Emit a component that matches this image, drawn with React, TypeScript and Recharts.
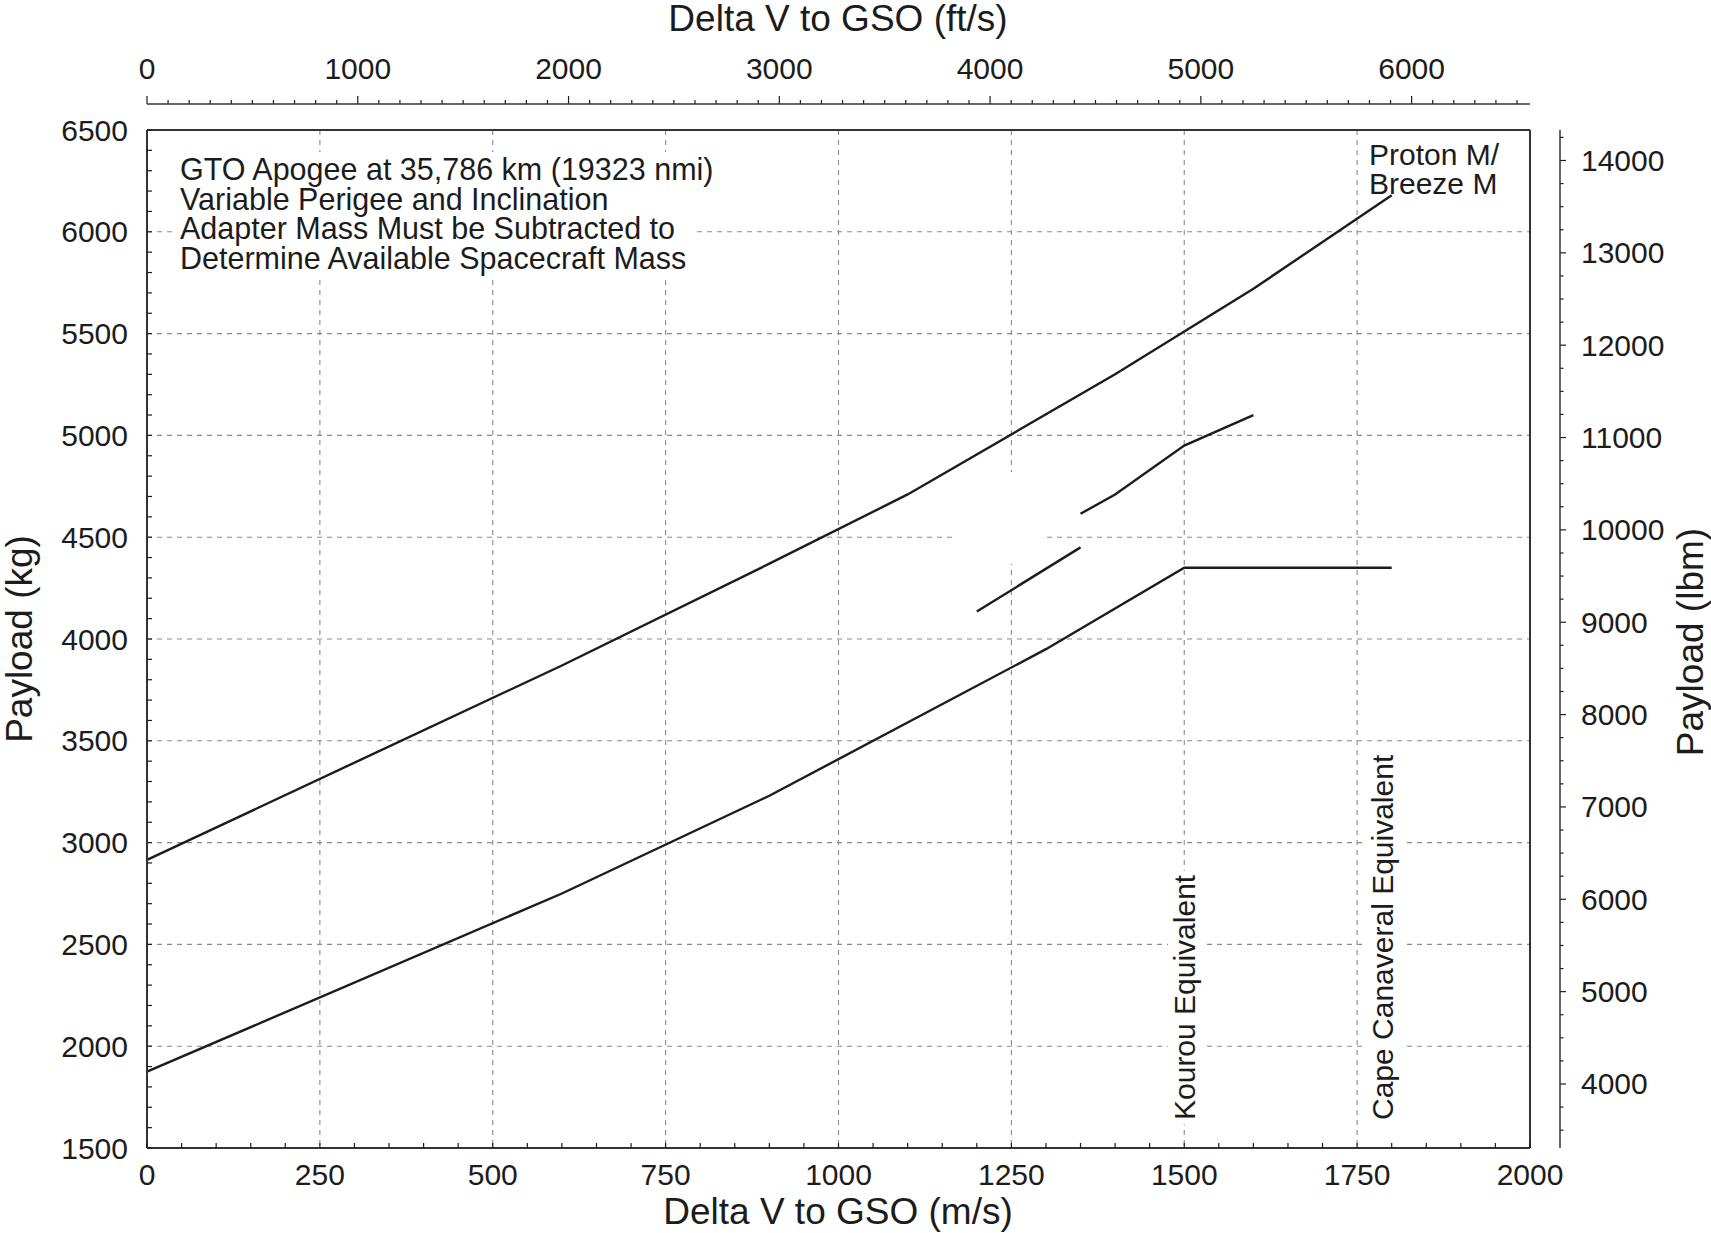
import React from 'react';
import { LineChart, Line, XAxis, YAxis, CartesianGrid } from 'recharts';

// Proton M / Breeze M: GTO payload vs delta V to GSO
const upperCurve = [
  { v: 0, kg: 2915 },
  { v: 600, kg: 3870 },
  { v: 900, kg: 4370 },
  { v: 1100, kg: 4710 },
  { v: 1400, kg: 5300 },
  { v: 1600, kg: 5720 },
  { v: 1800, kg: 6180 },
];
const lowerCurve = [
  { v: 0, kg: 1875 },
  { v: 600, kg: 2750 },
  { v: 900, kg: 3230 },
  { v: 1300, kg: 3950 },
  { v: 1500, kg: 4350 },
  { v: 1800, kg: 4350 },
];
const midLowSegment = [
  { v: 1200, kg: 4135 },
  { v: 1350, kg: 4450 },
];
const midHighSegment = [
  { v: 1350, kg: 4615 },
  { v: 1400, kg: 4710 },
  { v: 1500, kg: 4950 },
  { v: 1600, kg: 5100 },
];

const msLabels = [0, 250, 500, 750, 1000, 1250, 1500, 1750, 2000];
const kgLabels = [1500, 2000, 2500, 3000, 3500, 4000, 4500, 5000, 5500, 6000, 6500];
const ftLabels = [0, 1000, 2000, 3000, 4000, 5000, 6000];
const lbLabels = [4000, 5000, 6000, 7000, 8000, 9000, 10000, 11000, 12000, 13000, 14000];
const msGrid = [250, 500, 750, 1000, 1250, 1500, 1750];
const kgGrid = [2000, 2500, 3000, 3500, 4000, 4500, 5000, 5500, 6000];

const notes = [
  'GTO Apogee at 35,786 km (19323 nmi)',
  'Variable Perigee and Inclination',
  'Adapter Mass Must be Subtracted to',
  'Determine Available Spacecraft Mass',
];

const MS_TO_FT = 3.28084;
const KG_TO_LB = 2.20462;

const range = (a: number, b: number, step: number) => {
  const out: number[] = [];
  for (let t = a; t <= b; t += step) out.push(t);
  return out;
};
const msTicks = range(0, 2000, 50);
const kgTicks = range(1500, 6500, 100);
const ftTicks = range(0, 6500, 100);
const lbTicks = range(3500, 14250, 250);

const W = 1711;
const H = 1233;
const PLOT_LEFT = 147;
const PLOT_RIGHT = 1530;
const PLOT_TOP = 130;
const PLOT_BOTTOM = 1148;
const TOP_AXIS_Y = PLOT_TOP - 26;
const RIGHT_AXIS_X = PLOT_RIGHT + 30;

const FONT = '"Liberation Sans", Arial, Helvetica, sans-serif';
const INK = '#1c1c1c';

function measure(s: string, size: number) {
  const ctx = document.createElement('canvas').getContext('2d');
  if (!ctx) return s.length * size * 0.5;
  ctx.font = `${size}px "Liberation Sans"`;
  return ctx.measureText(s).width;
}

function BottomTick({ x, payload }: any) {
  const v = payload.value;
  return (
    <g>
      <line x1={x} x2={x} y1={PLOT_BOTTOM} y2={PLOT_BOTTOM - 5} stroke={INK} strokeWidth={1.2} />
      {msLabels.includes(v) && (
        <text x={x} y={PLOT_BOTTOM + 37} textAnchor="middle" fontSize={30} fontFamily={FONT} fill={INK}>
          {v}
        </text>
      )}
    </g>
  );
}

function LeftTick({ y, payload }: any) {
  const v = payload.value;
  return (
    <g>
      <line x1={PLOT_LEFT} x2={PLOT_LEFT + 5} y1={y} y2={y} stroke={INK} strokeWidth={1.2} />
      {kgLabels.includes(v) && (
        <text x={PLOT_LEFT - 19} y={y + 10.5} textAnchor="end" fontSize={30} fontFamily={FONT} fill={INK}>
          {v}
        </text>
      )}
    </g>
  );
}

function TopTick({ x, payload }: any) {
  const v = payload.value;
  const major = ftLabels.includes(v);
  return (
    <g>
      <line
        x1={x}
        x2={x}
        y1={TOP_AXIS_Y}
        y2={TOP_AXIS_Y - (major ? 8 : 4)}
        stroke={INK}
        strokeWidth={1.2}
      />
      {major && (
        <text x={x} y={TOP_AXIS_Y - 25} textAnchor="middle" fontSize={30} fontFamily={FONT} fill={INK}>
          {v}
        </text>
      )}
    </g>
  );
}

function RightTick({ y, payload }: any) {
  const v = payload.value;
  const major = lbLabels.includes(v);
  return (
    <g>
      <line
        x1={RIGHT_AXIS_X}
        x2={RIGHT_AXIS_X + (major ? 6 : 3.5)}
        y1={y}
        y2={y}
        stroke={INK}
        strokeWidth={1.2}
      />
      {major && (
        <text x={RIGHT_AXIS_X + 21} y={y + 10.5} textAnchor="start" fontSize={30} fontFamily={FONT} fill={INK}>
          {v}
        </text>
      )}
    </g>
  );
}

export default function App() {
  const noteSize = 30.5;
  const noteW = notes.map((n) => measure(n, noteSize));
  const kourou = 'Kourou Equivalent';
  const cape = 'Cape Canaveral Equivalent';
  const kourouLen = measure(kourou, 30);
  const capeLen = measure(cape, 30);

  return (
    <div style={{ position: 'absolute', left: 0, top: 0, width: W, height: H, background: '#fff' }}>
      <LineChart width={W} height={H} margin={{ top: 0, right: 0, bottom: 0, left: 0 }}>
        <CartesianGrid
          xAxisId="ms"
          yAxisId="kg"
          horizontalValues={kgGrid}
          verticalValues={msGrid}
          stroke="#8a8a8a"
          strokeWidth={1.1}
          strokeDasharray="5 5"
        />
        <XAxis
          xAxisId="ms"
          dataKey="v"
          type="number"
          orientation="bottom"
          domain={[0, 2000]}
          allowDataOverflow
          ticks={msTicks}
          interval={0}
          height={H - PLOT_BOTTOM}
          tickSize={0}
          tickMargin={0}
          tickLine={false}
          axisLine={{ stroke: '#333', strokeWidth: 2 }}
          tick={BottomTick}
        />
        <XAxis
          xAxisId="ft"
          dataKey="ft"
          type="number"
          orientation="top"
          domain={[0, 2000 * MS_TO_FT]}
          allowDataOverflow
          ticks={ftTicks}
          interval={0}
          height={PLOT_TOP}
          tickSize={0}
          tickMargin={0}
          tickLine={false}
          axisLine={{ stroke: '#333', strokeWidth: 2 }}
          tick={TopTick}
        />
        <YAxis
          yAxisId="kg"
          type="number"
          orientation="left"
          domain={[1500, 6500]}
          allowDataOverflow
          ticks={kgTicks}
          interval={0}
          width={PLOT_LEFT}
          tickSize={0}
          tickMargin={0}
          tickLine={false}
          axisLine={{ stroke: '#333', strokeWidth: 2 }}
          tick={LeftTick}
        />
        <YAxis
          yAxisId="lb"
          type="number"
          orientation="right"
          domain={[1500 * KG_TO_LB, 6500 * KG_TO_LB]}
          allowDataOverflow
          ticks={lbTicks}
          interval={0}
          width={W - PLOT_RIGHT}
          tickSize={0}
          tickMargin={0}
          tickLine={false}
          axisLine={{ stroke: '#333', strokeWidth: 2 }}
          tick={RightTick}
        />
        {[upperCurve, lowerCurve, midLowSegment, midHighSegment].map((d, i) => (
          <Line
            key={i}
            xAxisId="ms"
            yAxisId="kg"
            data={d}
            dataKey="kg"
            type="linear"
            stroke={INK}
            strokeWidth={2.4}
            dot={false}
            activeDot={false}
            isAnimationActive={false}
          />
        ))}
      </LineChart>

      <svg
        width={W}
        height={H}
        style={{ position: 'absolute', left: 0, top: 0, pointerEvents: 'none' }}
        fontFamily={FONT}
        fill={INK}
      >
        {/* offset axis lines for the ft/s and lbm scales */}
        <line x1={PLOT_LEFT} x2={PLOT_RIGHT} y1={TOP_AXIS_Y} y2={TOP_AXIS_Y} stroke="#333" strokeWidth={1.5} />
        <line x1={RIGHT_AXIS_X} x2={RIGHT_AXIS_X} y1={PLOT_TOP} y2={PLOT_BOTTOM} stroke="#333" strokeWidth={1.5} />

        {/* white boxes behind labels that hide the grid */}
        <rect x={174} y={152} width={noteW[0] + 10} height={36} fill="#fff" />
        <rect x={174} y={188} width={Math.max(noteW[1], noteW[2], noteW[3]) + 10} height={88} fill="#fff" />
        <rect x={1168} y={1120 - kourouLen - 4} width={35} height={kourouLen + 8} fill="#fff" />
        <rect x={1366} y={1120 - capeLen - 4} width={36} height={capeLen + 8} fill="#fff" />
        <rect x={957} y={472} width={88} height={92} fill="#fff" />

        {notes.map((n, i) => (
          <text key={n} x={180} y={180 + i * 29.5} fontSize={noteSize}>
            {n}
          </text>
        ))}
        <text x={1369} y={165} fontSize={30}>Proton M/</text>
        <text x={1369} y={194} fontSize={30}>Breeze M</text>
        <text x={1195} y={1120} fontSize={30} transform="rotate(-90 1195 1120)">
          {kourou}
        </text>
        <text x={1393} y={1120} fontSize={30} transform="rotate(-90 1393 1120)">
          {cape}
        </text>

        <text x={838} y={31} fontSize={37} textAnchor="middle">Delta V to GSO (ft/s)</text>
        <text x={838} y={1224} fontSize={37} textAnchor="middle">Delta V to GSO (m/s)</text>
        <text x={32} y={639} fontSize={37} textAnchor="middle" transform="rotate(-90 32 639)">
          Payload (kg)
        </text>
        <text x={1703} y={642} fontSize={37} textAnchor="middle" transform="rotate(-90 1703 642)">
          Payload (lbm)
        </text>
      </svg>
    </div>
  );
}
